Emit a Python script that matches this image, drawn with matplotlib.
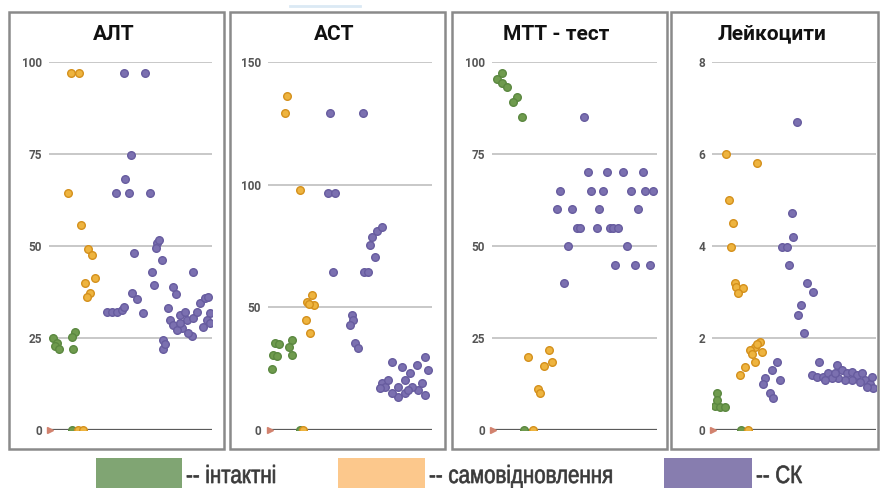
import matplotlib
matplotlib.use('Agg')
import matplotlib.pyplot as plt
from matplotlib.patches import Rectangle, PathPatch
from matplotlib.lines import Line2D
from matplotlib.textpath import TextPath
from matplotlib.font_manager import FontProperties
from matplotlib.transforms import Affine2D, IdentityTransform

# Panel titles and y ticks
titles = ['АЛТ', 'АСТ', 'МТТ - тест', 'Лейкоцити']
yticks = [[0, 25, 50, 75, 100], [0, 50, 100, 150], [0, 25, 50, 75, 100], [0, 2, 4, 6, 8]]
legend_labels = ['-- інтактні', '-- самовідновлення', '-- СК']

# АЛТ
alt_intact_x = [2.7, 4.7, 3.7, 6.3, 16.0, 13.9, 14.9, 14.0]
alt_intact_y = [25.0, 23.6, 22.8, 22.0, 26.7, 25.4, 22.0, 0]
alt_self_x = [13.3, 18.6, 11.5, 19.6, 24.1, 26.2, 28.2, 22.1, 25.2, 23.5, 18.0, 21.0]
alt_self_y = [97, 97, 64.5, 55.7, 49.1, 47.6, 41.3, 39.9, 37.3, 36.2, 0, 0]
alt_sk_x = [46, 58.9, 50.1, 46.6, 40.9, 49.3, 62, 52.1, 66.5, 67.3, 65.8, 69.1, 63, 64.4, 88.1,
            35.4, 38.5, 41.5, 44.5, 46, 50.7, 53.8, 57.5, 76.3, 77.9, 70.1, 70.1, 71, 87.5,
            74.2, 76.3, 80.4, 83.4, 84.5, 81.4, 78.3, 85.5, 88.5, 90.6, 92.6, 95.7, 97.7, 98.8,
            96.7, 94.7, 98.8, 73.2, 80.4]
alt_sk_y = [97, 97, 74.7, 68.2, 64.5, 64.5, 64.5, 48, 50.7, 51.6, 49.5, 46.2, 43, 39.4, 43,
            32, 32, 32, 32.5, 33.4, 37.1, 35.6, 31.9, 38.9, 37, 24.5, 22, 23.3, 25.5,
            29.9, 28.5, 31.3, 32.1, 29.9, 27.6, 27.2, 26.3, 30.4, 32.1, 34.4, 35.8, 36.2, 31.7,
            29.9, 28.1, 29, 33.1, 29]

# АСТ
ast_intact_x = [4.3, 6.5, 3.2, 5.5, 2.2, 14.4, 12.6, 14.4, 19.5]
ast_intact_y = [35.3, 35.0, 30.6, 30.3, 24.7, 36.7, 33.8, 30.6, 0]
ast_self_x = [11.4, 10.4, 19.5, 26.6, 23.6, 28.3, 25.0, 23.0, 25.6, 21.5]
ast_self_y = [136.2, 129.4, 97.8, 55.0, 52.3, 51.0, 51.5, 44.8, 39.4, 0]
ast_sk_x = [37.8, 58.1, 36.8, 40.9, 39.8, 58.7, 61.2, 65.2, 62.2, 63.2, 66.3, 69.3,
            51, 52, 50, 53, 55, 75.4, 69.3, 71.3, 79.5, 83.5, 86.6, 90.7, 95.7, 97.7, 95.7,
            91.7, 87.6, 83.5, 79.5, 75.4, 73.4, 81.5, 85.5, 93.7, 68.3]
ast_sk_y = [129.4, 129.4, 96.7, 96.7, 64.5, 64.5, 64.5, 70.7, 75.4, 78.8, 81.1, 82.9,
            46.9, 44.8, 42.8, 35.3, 33.3, 27.8, 19, 17.7, 17.7, 20.4, 23.1, 26.5, 29.9, 24.5, 14.3,
            16.3, 17.7, 15, 13.6, 15, 20.4, 25.8, 16.3, 19, 17]

# МТТ - тест
mtt_intact_x = [5.9, 2.8, 6.0, 8.9, 14.9, 12.9, 18.0, 19.6]
mtt_intact_y = [97.1, 95.3, 94.2, 93.1, 90.6, 89.2, 85.1, 0]
mtt_self_x = [22, 34.5, 36.2, 31.7, 27.7, 29.1, 25.0]
mtt_self_y = [19.9, 21.7, 18.6, 17.4, 11.1, 10.0, 0]
mtt_sk_x = [55.9, 57.9, 69.9, 79.6, 91.3, 41.2, 60, 67.5, 84.1, 92.7, 97.8, 39.2, 48.3, 64.8,
            88.3, 51.3, 53.3, 63.4, 71.5, 73.5, 76.6, 46.3, 81.6, 74.5, 86.7, 95.8, 43.8]
mtt_sk_y = [85.1, 70, 70, 70, 70, 65, 65, 65, 65, 65, 65, 60, 60, 60,
            60, 55, 55, 55, 55, 55, 55, 50, 50, 44.8, 44.8, 44.8, 39.9]

# Лейкоцити
leu_intact_x = [2.9, 1.8, 4.9, 7.9, 2.9, 17.7]
leu_intact_y = [0.8, 0.52, 0.5, 0.5, 0.65, 0]
leu_self_x = [8.3, 27.2, 10.4, 13.0, 11.6, 14.0, 14.6, 19.1, 15.6, 29.3, 26.2, 23.2, 30.3,
              26.2, 20.1, 17.1, 27.5, 24.5, 21.8]
leu_self_y = [6.0, 5.8, 5.0, 4.5, 3.98, 3.2, 3.1, 3.08, 2.97, 1.92, 1.81, 1.74, 1.70,
              1.48, 1.38, 1.2, 1.86, 1.65, 0]
leu_sk_x = [52, 48.6, 49.6, 42.5, 45.5, 47, 57.7, 61.8, 54.3, 52.6, 56.3,
            39.4, 36.4, 41.5, 32.3, 35.4, 37.4, 31.3,
            65.2, 60.8, 63.8, 67.9, 70.9, 76, 79.1, 82.1, 85.2, 88.2, 91.3, 93.3, 96.3, 98.4,
            94.3, 90.2, 85.2, 81.1, 77, 73, 68.9, 97.4, 75]
leu_sk_y = [6.7, 4.71, 4.2, 3.98, 3.98, 3.59, 3.2, 3.0, 2.72, 2.5, 2.1,
            1.48, 1.3, 1.09, 1.12, 0.8, 0.69, 1.01,
            1.48, 1.2, 1.16, 1.16, 1.23, 1.41, 1.30, 1.23, 1.27, 1.2, 1.23, 1.09, 1.01, 0.91,
            0.94, 1.05, 1.09, 1.09, 1.12, 1.12, 1.09, 1.16, 1.23]

# small red marks sitting on the zero line
zero_x = [0.7, 1.2, 0.8, 0.8]

panels = [
    [(alt_intact_x, alt_intact_y), (alt_self_x, alt_self_y), (alt_sk_x, alt_sk_y)],
    [(ast_intact_x, ast_intact_y), (ast_self_x, ast_self_y), (ast_sk_x, ast_sk_y)],
    [(mtt_intact_x, mtt_intact_y), (mtt_self_x, mtt_self_y), (mtt_sk_x, mtt_sk_y)],
    [(leu_intact_x, leu_intact_y), (leu_self_x, leu_self_y), (leu_sk_x, leu_sk_y)],
]

fills = ['#6f9b4e', '#eeb43f', '#7b70b0']
edges = ['#5b8840', '#d4901c', '#675c9f']
box_colors = ['#80a573', '#fcc88c', '#877daf']

W, H = 880, 488
fig = plt.figure(figsize=(8.8, 4.88), dpi=100)
fig.patch.set_facecolor('white')

# panel frames (px)
frames = [(9, 224), (230, 445), (452, 667), (671, 878)]
ax_left = [49, 268, 492, 712]
ax_width = [163, 164, 165, 164]

for i in range(4):
    x0, x1 = frames[i]
    fig.patches.append(Rectangle((x0 / W, 39 / H), (x1 - x0) / W, 437 / H,
                                 transform=fig.transFigure, fill=False,
                                 edgecolor='#8a8a8a', linewidth=1.8))
    fig.text((x0 + x1) / 2 / W - 3 / W, 1 - 34 / H, titles[i], ha='center', va='center',
             fontsize=15, fontweight='bold', family='Roboto', color='#111111')

    ax = fig.add_axes([ax_left[i] / W, 58 / H, ax_width[i] / W, 368 / H])
    top = yticks[i][-1]
    ax.set_xlim(0, 100)
    ax.set_ylim(0, top)
    for t in yticks[i][1:]:
        ax.axhline(t, color='#c4c4c4', linewidth=1.3, zorder=1)
    ax.axhline(0, color='#5a5a5a', linewidth=1.6, zorder=1)
    for s in ax.spines.values():
        s.set_visible(False)
    ax.set_xticks([])
    ax.set_yticks(yticks[i])
    ax.tick_params(axis='y', length=0, pad=5, labelsize=8.5, labelcolor='#555555')
    for lab in ax.get_yticklabels():
        lab.set_family('Roboto')
        lab.set_fontweight('bold')
    ax.patch.set_alpha(0)

    for k, (xs, ys) in enumerate(panels[i]):
        ax.scatter(xs, ys, s=30, color=fills[k], edgecolors=edges[k], linewidths=1.0, zorder=3)
    ax.plot([zero_x[i]], [0], marker='>', markersize=4, color='#d2826e', zorder=4, clip_on=False)

# faint line at the top edge
fig.add_artist(Line2D([290 / W, 360 / W], [1 - 6 / H, 1 - 6 / H], color='#dbe9f4', linewidth=2))

# legend boxes underneath, labels in a condensed face
box_x = [(96, 182), (338, 425), (664, 752)]
legend_font = FontProperties(family='Liberation Sans')
squeeze = 0.82
for k in range(3):
    bx0, bx1 = box_x[k]
    fig.patches.append(Rectangle((bx0 / W, 0), (bx1 - bx0) / W, 30 / H,
                                 transform=fig.transFigure, facecolor=box_colors[k],
                                 edgecolor='none'))
    tp = TextPath((0, 0), legend_labels[k], size=25, prop=legend_font)
    tr = Affine2D().scale(squeeze, 1).translate(bx1 + 4, 5) + IdentityTransform()
    fig.add_artist(PathPatch(tp, transform=tr, facecolor='#3a3a3a', edgecolor='#3a3a3a',
                             linewidth=0.5))

fig.savefig('out.png', dpi=100)
